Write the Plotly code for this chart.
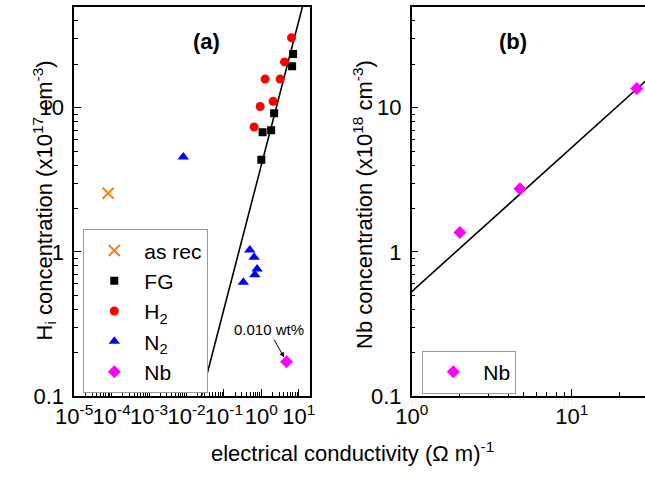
import numpy as np
import plotly.graph_objects as go

# ---------------- data (panel a) ----------------
asrec_x = [8.1e-5]
asrec_y = [2.55]

fg_x = [7.06, 6.64, 2.20, 1.83, 1.08, 1.00]
fg_y = [23.6, 19.4, 9.16, 6.98, 6.75, 4.36]

h2_x = [6.4, 4.16, 1.26, 3.18, 2.07, 0.93, 0.64]
h2_y = [30.6, 20.8, 15.8, 15.8, 11.1, 10.2, 7.35]

n2_x = [0.0082, 0.49, 0.64, 0.77, 0.67, 0.33]
n2_y = [4.55, 1.03, 0.917, 0.76, 0.695, 0.615]

nb_a_x = [4.7]
nb_a_y = [0.173]

fit_a_k = 4.0          # H = k * sigma
fit_a_x = [1e-5, 30]

# ---------------- data (panel b) ----------------
nb_b_x = [2.0, 4.75, 25.5]
nb_b_y = [1.36, 2.74, 13.6]

fit_b_k = 0.53
fit_b_x = [1, 30]

xa_ticks = [1e-5, 1e-4, 1e-3, 1e-2, 1e-1, 1, 10]
xa_text = ["10<sup>-5</sup>", "10<sup>-4</sup>", "10<sup>-3</sup>", "10<sup>-2</sup>",
           "10<sup>-1</sup>", "10<sup>0</sup>", "10<sup>1</sup>"]
xb_ticks = [1, 10]
xb_text = ["10<sup>0</sup>", "10<sup>1</sup>"]
y_ticks = [0.1, 1, 10]
y_text = ["0.1", "1", "10"]

W, H = 645, 489
FONT = "Liberation Sans, Arial, sans-serif"
FS = 22
LFS = 21


def minors(lo_exp, hi_exp, maxval=None):
    vals = []
    for e in range(lo_exp, hi_exp + 1):
        for m in range(2, 10):
            v = m * 10.0 ** e
            if maxval is None or v <= maxval:
                vals.append(v)
    return vals


fig = go.Figure()

fig.add_trace(go.Scatter(x=fit_a_x, y=[fit_a_k * v for v in fit_a_x], mode="lines",
                         line=dict(color="black", width=1.6), showlegend=False,
                         xaxis="x", yaxis="y"))
fig.add_trace(go.Scatter(x=asrec_x, y=asrec_y, mode="markers", name="as rec",
                         marker=dict(symbol="x-thin", size=11, line=dict(color="#ff7f0e", width=2)),
                         xaxis="x", yaxis="y", legend="legend"))
fig.add_trace(go.Scatter(x=fg_x, y=fg_y, mode="markers", name="FG",
                         marker=dict(symbol="square", size=8, color="black"),
                         xaxis="x", yaxis="y", legend="legend"))
fig.add_trace(go.Scatter(x=h2_x, y=h2_y, mode="markers", name="H<sub>2</sub>",
                         marker=dict(symbol="circle", size=9, color="#ff0000"),
                         xaxis="x", yaxis="y", legend="legend"))
fig.add_trace(go.Scatter(x=n2_x, y=n2_y, mode="markers", name="N<sub>2</sub>",
                         marker=dict(symbol="triangle-up", size=10, color="#0000ff"),
                         xaxis="x", yaxis="y", legend="legend"))
fig.add_trace(go.Scatter(x=nb_a_x, y=nb_a_y, mode="markers", name="Nb",
                         marker=dict(symbol="diamond", size=10, color="#ff00ff"),
                         xaxis="x", yaxis="y", legend="legend"))

fig.add_trace(go.Scatter(x=fit_b_x, y=[fit_b_k * v for v in fit_b_x], mode="lines",
                         line=dict(color="black", width=1.6), showlegend=False,
                         xaxis="x2", yaxis="y2"))
fig.add_trace(go.Scatter(x=nb_b_x, y=nb_b_y, mode="markers", name="Nb",
                         marker=dict(symbol="diamond", size=10, color="#ff00ff"),
                         xaxis="x2", yaxis="y2", legend="legend2"))

ydom = [(H - 396) / H, (H - 7) / H]

common = dict(type="log", showgrid=False, zeroline=False, showline=True,
              linecolor="black", linewidth=1.5, ticks="inside", ticklen=7,
              tickwidth=1, tickcolor="black", automargin=False, tickangle=0,
              tickfont=dict(family=FONT, size=FS, color="black"),
              tickmode="array")
mnr = dict(tickmode="array", ticks="inside", ticklen=4, tickcolor="black",
           tickwidth=1, showgrid=False)

fig.update_layout(
    width=W, height=H, margin=dict(l=0, r=0, t=0, b=0, autoexpand=False),
    paper_bgcolor="white", plot_bgcolor="white",
    font=dict(family=FONT, size=FS, color="black"),
    xaxis=dict(domain=[74.2 / W, 310 / W], range=[-5, 1.3], anchor="y",
               tickvals=xa_ticks, ticktext=xa_text, mirror=True,
               minor=dict(tickvals=minors(-5, 1, 20), **mnr), **common),
    yaxis=dict(domain=ydom, range=[-1, np.log10(50)], anchor="x",
               tickvals=y_ticks, ticktext=y_text, mirror=True, ticklabelstandoff=4,
               minor=dict(tickvals=minors(-1, 1, 50), **mnr), **common),
    xaxis2=dict(domain=[411.7 / W, 1.0], range=[0, 1.458], anchor="y2",
                tickvals=xb_ticks, ticktext=xb_text, mirror=True,
                minor=dict(tickvals=minors(0, 1, 30), **mnr), **common),
    yaxis2=dict(domain=ydom, range=[-1, np.log10(50)], anchor="x2",
                tickvals=y_ticks, ticktext=y_text, mirror=False, ticklabelstandoff=4,
                minor=dict(tickvals=minors(-1, 1, 50), **mnr), **common),
    legend=dict(x=83.3 / W, y=1 - 229.3 / H, xanchor="left", yanchor="top",
                bordercolor="#999999", borderwidth=1, bgcolor="white",
                font=dict(family=FONT, size=LFS, color="black"), itemwidth=50,
                tracegroupgap=0),
    legend2=dict(x=422.3 / W, y=1 - 350.7 / H, xanchor="left", yanchor="top",
                 bordercolor="#999999", borderwidth=1, bgcolor="white",
                 font=dict(family=FONT, size=LFS, color="black"), itemwidth=50),
)

ann = [
    dict(text="<b>(a)</b>", x=190.7 / W, y=1 - 27.3 / H, xref="paper", yref="paper",
         showarrow=False, font=dict(size=FS)),
    dict(text="<b>(b)</b>", x=529 / W, y=1 - 26.7 / H, xref="paper", yref="paper",
         showarrow=False, font=dict(size=FS)),
    dict(text="H<sub>i</sub> concentration (x10<sup>17</sup> cm<sup>-3</sup>)",
         x=26 / W, y=1 - 201 / H, xref="paper", yref="paper", textangle=-90,
         showarrow=False, font=dict(size=FS)),
    dict(text="Nb concentration (x10<sup>18</sup> cm<sup>-3</sup>)",
         x=363 / W, y=1 - 205 / H, xref="paper", yref="paper", textangle=-90,
         showarrow=False, font=dict(size=FS)),
    dict(text="electrical conductivity (Ω m)<sup>-1</sup>",
         x=352 / W, y=1 - 468 / H, xref="paper", yref="paper",
         showarrow=False, font=dict(size=FS)),
    dict(text="0.010 wt%", x=np.log10(nb_a_x[0]), y=np.log10(nb_a_y[0]),
         xref="x", yref="y", showarrow=True, arrowhead=2, arrowsize=1, arrowwidth=1,
         arrowcolor="black", ax=-18, ay=-32, standoff=5,
         font=dict(size=15)),
]
fig.update_layout(annotations=ann)

fig.write_html("out.html")
